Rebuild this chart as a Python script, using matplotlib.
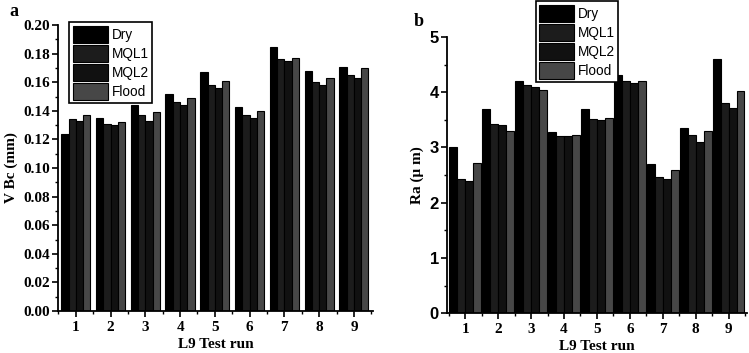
import numpy as np
import matplotlib
matplotlib.use("Agg")
from matplotlib import pyplot as plt
from matplotlib.ticker import MultipleLocator, FormatStrFormatter

runs = [1, 2, 3, 4, 5, 6, 7, 8, 9]
series = ["Dry", "MQL1", "MQL2", "Flood"]
colors = ["#000000", "#1c1c1c", "#111111", "#474747"]

vbc_dry = [0.124, 0.135, 0.144, 0.152, 0.167, 0.143, 0.185, 0.168, 0.171]
vbc_mql1 = [0.134, 0.131, 0.137, 0.146, 0.158, 0.137, 0.176, 0.160, 0.165]
vbc_mql2 = [0.133, 0.130, 0.133, 0.144, 0.156, 0.135, 0.175, 0.158, 0.163]
vbc_flood = [0.137, 0.132, 0.139, 0.149, 0.161, 0.140, 0.177, 0.163, 0.170]

ra_dry = [3.00, 3.70, 4.20, 3.28, 3.70, 4.32, 2.70, 3.35, 4.60]
ra_mql1 = [2.43, 3.42, 4.13, 3.20, 3.52, 4.20, 2.46, 3.22, 3.80]
ra_mql2 = [2.40, 3.40, 4.10, 3.20, 3.50, 4.16, 2.43, 3.10, 3.72]
ra_flood = [2.72, 3.30, 4.05, 3.22, 3.54, 4.20, 2.60, 3.30, 4.02]

serif = "Liberation Serif"
sans = "Liberation Sans"
plt.rcParams["font.weight"] = "bold"

fig = plt.figure(figsize=(7.49, 3.53), dpi=100)
ax_a = fig.add_axes([0.078, 0.119, 0.42, 0.81])
ax_b = fig.add_axes([0.597, 0.113, 0.400, 0.782])


def draw(ax, data, width, ylim, major, minor, yfmt, ytick_font, ytick_size, ylabel):
    x = np.array(runs, dtype=float)
    for i, (vals, c, name) in enumerate(zip(data, colors, series)):
        ax.bar(x + (i - 1.5) * width, vals, width, color=c, edgecolor="black",
               linewidth=0.8, label=name)
    ax.set_xlim(0.5, 9.55)
    ax.set_ylim(*ylim)
    ax.yaxis.set_major_locator(MultipleLocator(major))
    ax.yaxis.set_minor_locator(MultipleLocator(minor))
    ax.yaxis.set_major_formatter(FormatStrFormatter(yfmt))
    ax.set_xticks(runs)
    ax.set_xticks(np.arange(0.5, 10, 1.0), minor=True)
    ax.spines["top"].set_visible(False)
    ax.spines["right"].set_visible(False)
    ax.spines["left"].set_linewidth(1.3)
    ax.spines["bottom"].set_linewidth(1.3)
    ax.tick_params(which="major", direction="out", length=4, width=1.2)
    ax.tick_params(which="minor", direction="out", length=2.5, width=1.0)
    ax.tick_params(axis="x", labelfontfamily=serif, labelsize=11, pad=3)
    ax.tick_params(axis="y", labelfontfamily=ytick_font, labelsize=ytick_size, pad=2)
    ax.set_xlabel("L9 Test run", fontfamily=serif, fontweight="bold", fontsize=11, labelpad=3)
    ax.set_ylabel(ylabel, fontfamily=serif, fontweight="bold", fontsize=11, labelpad=4)


draw(ax_a, [vbc_dry, vbc_mql1, vbc_mql2, vbc_flood], 0.21, (0, 0.20), 0.02, 0.01,
     "%.2f", serif, 11, "V Bc (mm)")
draw(ax_b, [ra_dry, ra_mql1, ra_mql2, ra_flood], 0.24, (0, 5), 1, 0.5,
     "%d", sans, 12, "Ra (\u03bc m)")
ax_b.set_xlim(0.45, 9.55)

leg_kw = dict(prop={"family": sans, "size": 9.8, "weight": "normal"}, handlelength=2.6,
              handleheight=1.55, labelspacing=0.15, handletextpad=0.25, borderpad=0.25,
              borderaxespad=0, fancybox=False, edgecolor="black", framealpha=1)
la = ax_a.legend(loc="upper left", bbox_to_anchor=(0.035, 1.01), **leg_kw)
la.get_frame().set_linewidth(1.2)
lb = ax_b.legend(loc="upper left", bbox_to_anchor=(0.295, 1.13), **leg_kw)
lb.get_frame().set_linewidth(1.2)

fig.text(0.012, 0.955, "a", fontfamily=serif, fontweight="bold", fontsize=13)
fig.text(0.553, 0.925, "b", fontfamily=serif, fontweight="bold", fontsize=13)

fig.savefig("out.png", dpi=100)
